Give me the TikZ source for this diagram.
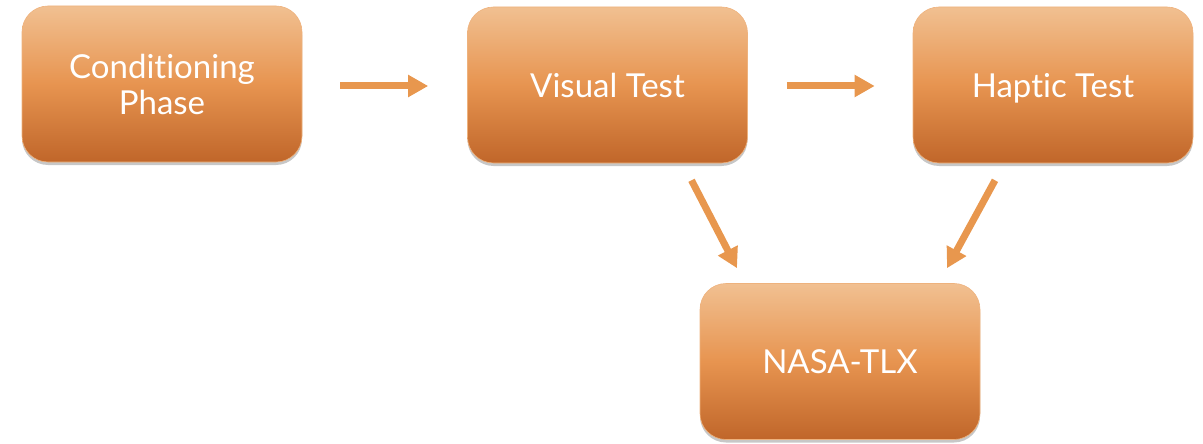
\documentclass[tikz,border=0pt]{standalone}
\usepackage{fontspec}
\setmainfont{Lato}[Ligatures={NoCommon,NoRare,NoContextual}]
\usetikzlibrary{arrows.meta,shadows}
\definecolor{boxtop}{RGB}{241,192,145}
\definecolor{boxmid}{RGB}{231,148,80}
\definecolor{boxbot}{RGB}{192,102,42}
\definecolor{boxedge}{RGB}{238,178,125}
\definecolor{arrowc}{RGB}{232,151,78}
\tikzset{
  stagebox/.style={rectangle, rounded corners=26pt, minimum width=280pt, minimum height=156pt,
    top color=boxtop, bottom color=boxbot, middle color=boxmid, draw=boxedge, line width=0.6pt,
    text=white, font=\fontsize{33}{36}\selectfont, align=center, text depth=0pt,
    drop shadow={shadow xshift=0pt, shadow yshift=-3pt, opacity=0.22, fill=black}},
  flow/.style={draw=arrowc, line width=7pt, -{Triangle[width=21pt,length=20pt]}}
}
\begin{document}
\begin{tikzpicture}[x=1pt,y=-1pt]
\useasboundingbox (0,0) rectangle (1203,444);
\node[stagebox] (cond) at (162,84) {Conditioning\\Phase};
\node[stagebox] (vis) at (607.5,85) {Visual Test};
\node[stagebox] (hap) at (1053,85) {Haptic Test};
\node[stagebox] (nasa) at (840,361.5) {NASA-TLX};
\coordinate (a1s) at ([xshift=38pt,yshift=-2pt]cond.east);
\coordinate (a1e) at ([xshift=-39pt,yshift=-1pt]vis.west);
\coordinate (a2s) at ([xshift=39pt,yshift=-1pt]vis.east);
\coordinate (a2e) at ([xshift=-38pt,yshift=-1pt]hap.west);
\coordinate (d1s) at ([xshift=84pt,yshift=-17pt]vis.south);
\coordinate (d1e) at ([xshift=-103pt,yshift=15pt]nasa.north);
\coordinate (d2s) at ([xshift=-58pt,yshift=-17pt]hap.south);
\coordinate (d2e) at ([xshift=107pt,yshift=15pt]nasa.north);
\draw[flow] (a1s) -- (a1e);
\draw[flow] (a2s) -- (a2e);
\draw[flow] (d1s) -- (d1e);
\draw[flow] (d2s) -- (d2e);
\end{tikzpicture}
\end{document}
